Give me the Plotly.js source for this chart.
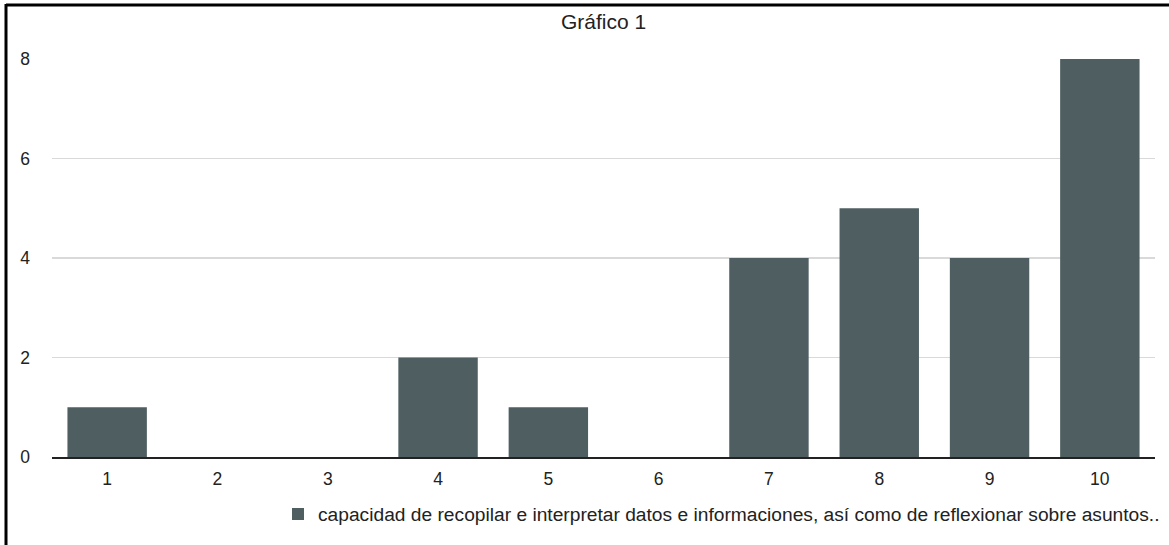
<!DOCTYPE html>
<html>
<head>
<meta charset="utf-8">
<script src="https://cdn.plot.ly/plotly-3.0.1.min.js"></script>
<style>
html,body{margin:0;padding:0;background:#fff;}
#chart{width:1169px;height:545px;}
</style>
</head>
<body>
<div id="chart"></div>
<script>
const categories = ["1","2","3","4","5","6","7","8","9","10"];
const values = [1, 0, 0, 2, 1, 0, 4, 5, 4, 8];
const seriesName = "capacidad de recopilar e interpretar datos e informaciones, así como de reflexionar sobre asuntos..";
const yTicks = [0, 2, 4, 6, 8];
const chartTitle = "Gráfico 1";

const font = "Liberation Sans, Arial, Helvetica, sans-serif";

const trace = {
  type: "bar",
  x: categories,
  y: values,
  name: seriesName,
  marker: {color: "#4e5e61", line: {width: 0}},
  showlegend: true,
  hoverinfo: "x+y"
};

const layout = {
  width: 1169,
  height: 545,
  margin: {l: 52, r: 14, t: 59, b: 88, autoexpand: false},
  paper_bgcolor: "#ffffff",
  plot_bgcolor: "#ffffff",
  font: {family: font, size: 17, color: "#222"},
  title: {
    text: chartTitle,
    font: {family: font, size: 21, color: "#222"},
    x: 0.5, xref: "paper",
    y: 1 - 22/545, yref: "container", yanchor: "middle"
  },
  bargap: 0.28,
  xaxis: {
    type: "category",
    tickvals: categories,
    showgrid: false,
    showline: true,
    linecolor: "#222",
    linewidth: 1.5,
    ticks: "",
    ticklabelstandoff: 5,
    tickfont: {family: font, size: 17.5, color: "#222"},
    zeroline: false,
    automargin: false,
    fixedrange: true
  },
  yaxis: {
    range: [0, 8],
    tickvals: yTicks,
    showgrid: true,
    gridcolor: "#d9d9d9",
    gridwidth: 1.5,
    zeroline: false,
    showline: false,
    ticks: "",
    ticklabelstandoff: 21,
    tickfont: {family: font, size: 17.5, color: "#222"},
    automargin: false,
    fixedrange: true
  },
  showlegend: true,
  legend: {
    orientation: "h",
    x: 1 + 10/1103, xanchor: "right",
    y: (457-514)/398, yanchor: "middle",
    font: {family: font, size: 19.2, color: "#222"},
    itemwidth: 30,
    bgcolor: "rgba(0,0,0,0)"
  },
  shapes: [
    {type: "line", xref: "paper", yref: "paper",
     x0: (6-52)/1103, x1: (1169-52)/1103, y0: (457-5)/398, y1: (457-5)/398,
     line: {color: "#000", width: 3}},
    {type: "line", xref: "paper", yref: "paper",
     x0: (6-52)/1103, x1: (6-52)/1103, y0: (457-4)/398, y1: (457-545)/398,
     line: {color: "#000", width: 3}}
  ]
};

Plotly.newPlot("chart", [trace], layout, {displayModeBar: false, staticPlot: true});
</script>
</body>
</html>
